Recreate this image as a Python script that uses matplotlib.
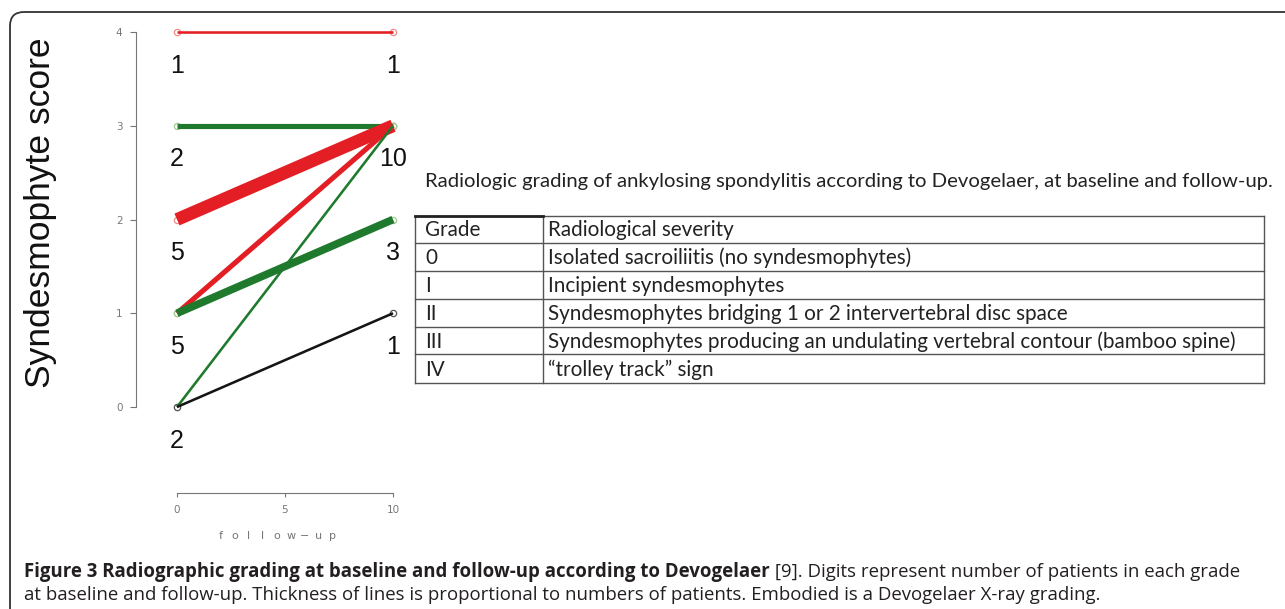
import matplotlib
matplotlib.use('Agg')
import matplotlib.pyplot as plt
from matplotlib.patches import FancyBboxPatch

# patients moving from baseline grade to follow-up grade
baseline = [3, 2, 1, 1, 0, 0, 4]
followup = [3, 3, 3, 2, 3, 1, 4]
n_patients = [2, 5, 2, 3, 1, 1, 1]
line_colors = ['green', 'red', 'red', 'green', 'green', 'black', 'red']

# digits written under each grade
base_grades = [4, 3, 2, 1, 0]
base_counts = [1, 2, 5, 5, 2]
fu_grades = [4, 3, 2, 1]
fu_counts = [1, 10, 3, 1]

x_ticks = [0, 5, 10]
y_ticks = [0, 1, 2, 3, 4]

table_title = 'Radiologic grading of ankylosing spondylitis according to Devogelaer, at baseline and follow-up.'
grades = ['Grade', '0', 'I', 'II', 'III', 'IV']
severity = ['Radiological severity',
            'Isolated sacroiliitis (no syndesmophytes)',
            'Incipient syndesmophytes',
            'Syndesmophytes bridging 1 or 2 intervertebral disc space',
            'Syndesmophytes producing an undulating vertebral contour (bamboo spine)',
            '\u201ctrolley track\u201d sign']

caption_bold = 'Figure 3 Radiographic grading at baseline and follow-up according to Devogelaer'
caption_rest = ' [9]. Digits represent number of patients in each grade'
caption_line2 = ('at baseline and follow-up. Thickness of lines is proportional to numbers '
                 'of patients. Embodied is a Devogelaer X-ray grading.')

col = {'red': '#e31e24', 'green': '#1f7a2d', 'black': '#151515'}
light = {'red': '#ee8a8a', 'green': '#9fcf8f', 'black': '#555555'}

W, H = 1285, 609
fig = plt.figure(figsize=(W / 100, H / 100), dpi=100)

# overlay in pixel coordinates for frame, table and caption
ov = fig.add_axes([0, 0, 1, 1])
ov.set_xlim(0, W)
ov.set_ylim(H, 0)
ov.axis('off')

# main plot, pixel -> data: x = 177 + 21.6*v, y = 407 - 93.75*v
ax = fig.add_axes([136 / W, 1 - 493 / H, (420 - 136) / W, (493 - 20) / H])
ax.patch.set_visible(False)
ax.set_xlim(-41 / 21.6, 243 / 21.6)
ax.set_ylim(-86 / 93.75, 387 / 93.75)
for s in ['top', 'right']:
    ax.spines[s].set_visible(False)
ax.spines['left'].set_bounds(0, 4)
ax.spines['bottom'].set_bounds(0, 10)
for s in ['left', 'bottom']:
    ax.spines[s].set_color('#777777')
    ax.spines[s].set_linewidth(0.8)
ax.set_xticks(x_ticks)
ax.set_yticks(y_ticks)
ax.tick_params(axis='y', length=4.3, width=0.8, pad=5.5, labelsize=7.5, colors='#777777')
ax.tick_params(axis='x', length=2.9, width=0.8, pad=5.5, labelsize=7.5, colors='#777777')

for b, f, n, c in zip(baseline, followup, n_patients, line_colors):
    ax.plot([0, 10], [b, f], 'o', ms=4.5, mfc='white', mec=light[c], mew=0.9,
            zorder=1, clip_on=False)
    ax.plot([0, 10], [b, f], '-', color=col[c], lw=1.85 * n, solid_capstyle='butt',
            zorder=2, clip_on=False)

for g, c in zip(base_grades, base_counts):
    ax.text(0, g - 0.36, str(c), ha='center', va='center', fontsize=18,
            family='Liberation Sans', color='#111111')
for g, c in zip(fu_grades, fu_counts):
    ax.text(10, g - 0.36, str(c), ha='center', va='center', fontsize=18,
            family='Liberation Sans', color='#111111')

fig.text(41 / W, 1 - 213 / H, 'Syndesmophyte score', rotation=90, ha='center',
         va='center', fontsize=25.5, family='Liberation Sans', color='#111111')

for i, ch in enumerate('follow\u2212up'):
    ov.text(221 + i * 14, 536, ch, ha='center', va='center', fontsize=8,
            family='DejaVu Sans', color='#777777')

# table
rows = [216, 243, 271, 299, 327, 354, 383]
tx0, tdiv, tx1 = 415, 543, 1264
for y in rows:
    ov.plot([tx0, tx1], [y, y], color='#555555', lw=1)
for x in [tx0, tdiv, tx1]:
    ov.plot([x, x], [rows[0], rows[-1]], color='#555555', lw=1)
ov.plot([tx0, tdiv], [rows[0], rows[0]], color='#222222', lw=2)

ov.text(425, 181, table_title, ha='left', va='center', fontsize=14.6,
        family='Lato', color='#222222')
for i in range(len(grades)):
    yc = (rows[i] + rows[i + 1]) / 2 + 1
    ov.text(425, yc, grades[i], ha='left', va='center', fontsize=14.9,
            family='Lato', color='#222222')
    ov.text(548, yc, severity[i], ha='left', va='center', fontsize=14.9,
            family='Lato', color='#222222')

# frame
ov.add_patch(FancyBboxPatch((10, 12), 1500, 800, boxstyle='round,pad=0,rounding_size=14',
                            fill=False, ec='#333333', lw=1.3))

# caption
t1 = ov.text(24, 577, caption_bold, ha='left', va='baseline', fontsize=13.4,
             family='Open Sans', weight='bold', color='#231f20')
fig.canvas.draw()
bb = t1.get_window_extent()
ov.text(bb.x1, 577, caption_rest, ha='left', va='baseline', fontsize=13.4,
        family='Open Sans', color='#231f20')
ov.text(24, 600, caption_line2, ha='left', va='baseline', fontsize=13.4,
        family='Open Sans', color='#231f20')

fig.savefig('out.png', dpi=100)
